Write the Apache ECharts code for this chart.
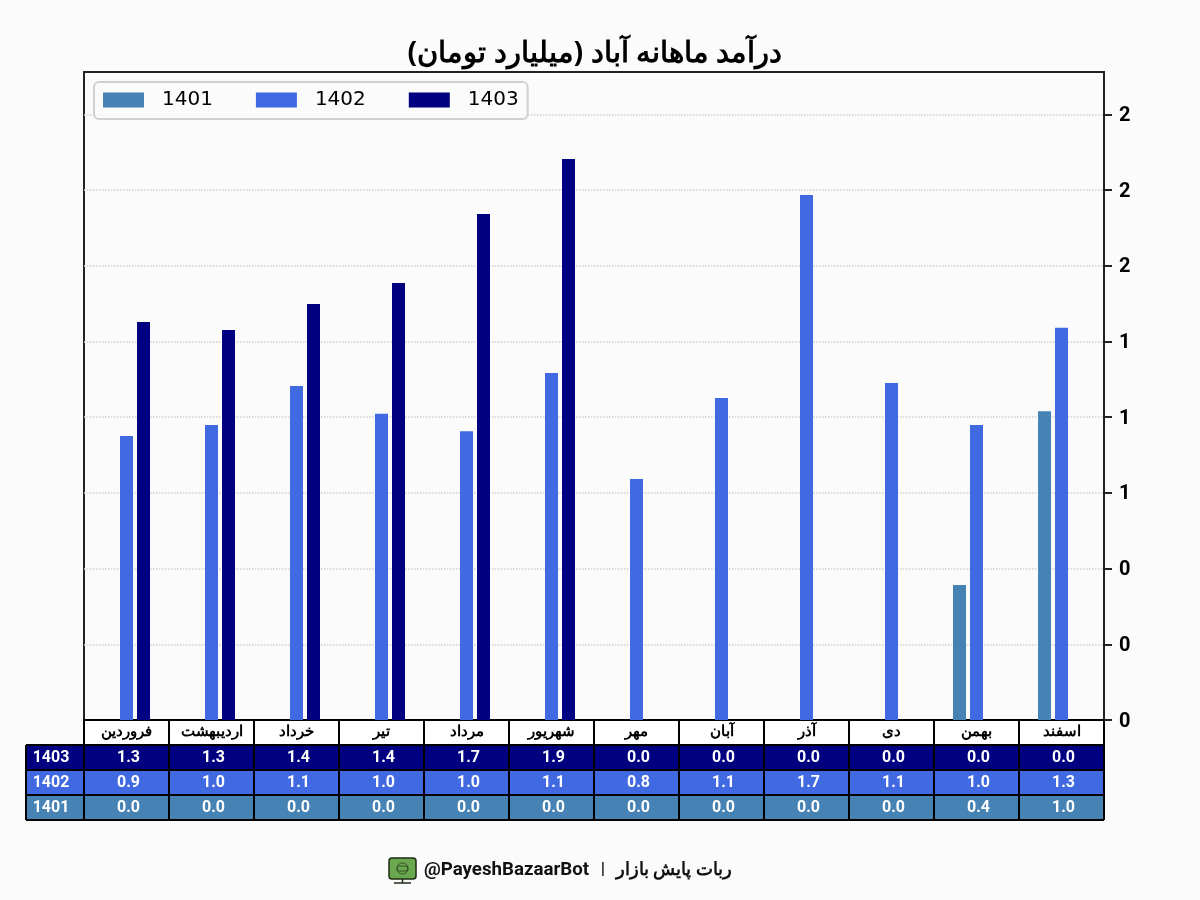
<!DOCTYPE html>
<html><head><meta charset="utf-8">
<style>html,body{margin:0;padding:0;background:#fbfbfb}#c{width:1200px;height:900px}</style>
<script src="https://cdn.jsdelivr.net/npm/echarts@6/dist/echarts.min.js"></script>
</head><body><div id="c"></div>
<script>
const months = ['فروردین','اردیبهشت','خرداد','تیر','مرداد','شهریور','مهر','آبان','آذر','دی','بهمن','اسفند'];
const years = ['1401','1402','1403'];
const v1401 = [0,0,0,0,0,0,0,0,0,0,0.446,1.02];
const v1402 = [0.938,0.974,1.103,1.011,0.954,1.146,0.796,1.063,1.734,1.113,0.974,1.295];
const v1403 = [1.314,1.288,1.374,1.443,1.671,1.853,0,0,0,0,0,0];
const yTickValues = [0,0.25,0.5,0.75,1,1.25,1.5,1.75,2];
const yTickLabels = ['0','0','0','1','1','1','2','2','2'];
const colors = {'1401':'#4682B4','1402':'#4169E1','1403':'#000080'};
const titleText = '\u200Fدرآمد ماهانه آباد (میلیارد تومان)\u200F';
const footerFa = 'ربات پایش بازار';
const footerBot = '@PayeshBazaarBot';

const FONT = '"Noto Sans", Roboto, sans-serif';
const G = {l:84, r:1104, t:72, b:720};
const seriesData = {'1401':v1401,'1402':v1402,'1403':v1403};
const chart = echarts.init(document.getElementById('c'), null, {renderer:'canvas'});

chart.setOption({
  backgroundColor:'#fbfbfb',
  animation:false,
  title:{text:titleText,left:590,top:34,textAlign:'center',
    textStyle:{fontFamily:FONT,fontSize:28.5,fontWeight:'bold',color:'#000'}},
  legend:{data:years,left:94,top:82,orient:'horizontal',itemWidth:41,itemHeight:15,itemGap:43,padding:[8,9,9,9],
    backgroundColor:'rgba(251,251,251,0.8)',borderColor:'#d0d0d0',borderWidth:2,borderRadius:5,
    selectedMode:false,icon:'rect',
    textStyle:{fontFamily:'"DejaVu Sans"',fontSize:20,color:'#000',padding:[4,0,0,13]}},
  grid:{left:G.l,top:G.t,width:G.r-G.l,height:G.b-G.t,show:true,borderColor:'#222',borderWidth:2,backgroundColor:'transparent',containLabel:false},
  xAxis:{type:'category',data:months,
    axisLine:{show:true,lineStyle:{color:'#000',width:2}},axisTick:{show:false},splitLine:{show:false},
    axisLabel:{show:true,interval:0,margin:5,color:'#000',fontFamily:'Roboto, '+FONT,fontSize:15,fontWeight:'bold'}},
  yAxis:{type:'value',position:'right',min:0,max:2.14,
    axisLine:{show:true,lineStyle:{color:'#222',width:2}},
    axisTick:{show:true,length:8,customValues:yTickValues,lineStyle:{color:'#222',width:2}},
    axisLabel:{show:true,margin:15,customValues:yTickValues,color:'#000',fontFamily:'Roboto',fontSize:20,fontWeight:'bold',
      verticalAlign:'top',lineHeight:3,
      formatter:function(v){return yTickLabels[yTickValues.indexOf(v)];}},
    splitLine:{show:true,lineStyle:{color:'#cfcfcf',type:'dotted',width:1.5}}},
  series:years.map(y=>({name:y,type:'bar',data:seriesData[y],barWidth:13,barGap:'30.8%',
    itemStyle:{color:colors[y]},z:2}))
});

/* table built from the same arrays; column centres come from the chart's x scale */
const rows = [['1403',745],['1402',770],['1401',795]];
const RH = 25, LBL = 26, els = [];
const colW = (G.r-G.l)/months.length;
const cx = months.map((m,i)=>chart.convertToPixel({xAxisIndex:0},i));
els.push({type:'rect',z:-1,shape:{x:G.l,y:G.b,width:G.r-G.l,height:RH},style:{fill:'#fff'}});
rows.forEach(([y,top])=>{
  els.push({type:'rect',shape:{x:LBL,y:top,width:G.r-LBL,height:RH},style:{fill:colors[y]}});
  els.push({type:'text',x:(LBL+G.l)/2-4,y:top+RH/2+0.5,style:{text:y,fill:'#fff',font:'bold 16px Roboto',textAlign:'center',textVerticalAlign:'middle'}});
  seriesData[y].forEach((v,i)=>{
    els.push({type:'text',x:cx[i]+2,y:top+RH/2+0.5,style:{text:v.toFixed(1),fill:'#fff',font:'bold 16px Roboto',textAlign:'center',textVerticalAlign:'middle'}});
  });
});
const line={stroke:'#000',lineWidth:2};
rows.concat([['',820]]).forEach(([y,top])=>els.push({type:'line',shape:{x1:LBL,y1:top,x2:G.r,y2:top},style:line}));
els.push({type:'line',shape:{x1:G.l,y1:G.b,x2:G.r,y2:G.b},style:line});
els.push({type:'line',shape:{x1:LBL,y1:745,x2:LBL,y2:820},style:line});
for(let i=0;i<=months.length;i++){const x=G.l+i*colW;els.push({type:'line',shape:{x1:x,y1:G.b,x2:x,y2:820},style:line});}
/* footer */
els.push({type:'text',x:424,y:870,style:{text:footerBot,fill:'#111',font:'bold 18.7px Roboto',textAlign:'left',textVerticalAlign:'middle'}});
els.push({type:'text',x:603,y:870,style:{text:'|',fill:'#111',font:'bold 17px Roboto',textAlign:'center',textVerticalAlign:'middle'}});
els.push({type:'text',x:732,y:870,style:{text:footerFa,fill:'#111',font:'bold 18px "Noto Sans", Roboto',textAlign:'right',textVerticalAlign:'middle'}});
/* icon */
els.push({type:'rect',shape:{x:389,y:858,width:27,height:21,r:3},style:{fill:'#6aa84f',stroke:'#1d2b14',lineWidth:1.5}});
els.push({type:'circle',shape:{cx:402.5,cy:868.5,r:5.5},style:{fill:'none',stroke:'#2b3a20',lineWidth:0.8}});
els.push({type:'rect',shape:{x:397,y:866,width:11,height:5,r:2.5},style:{fill:'none',stroke:'#2b3a20',lineWidth:0.8}});
els.push({type:'line',shape:{x1:402.5,y1:879,x2:402.5,y2:883},style:{stroke:'#1d2b14',lineWidth:1.5}});
els.push({type:'line',shape:{x1:394,y1:883,x2:411,y2:883},style:{stroke:'#1d2b14',lineWidth:1.5}});
chart.setOption({graphic:{elements:els}});
</script></body></html>
